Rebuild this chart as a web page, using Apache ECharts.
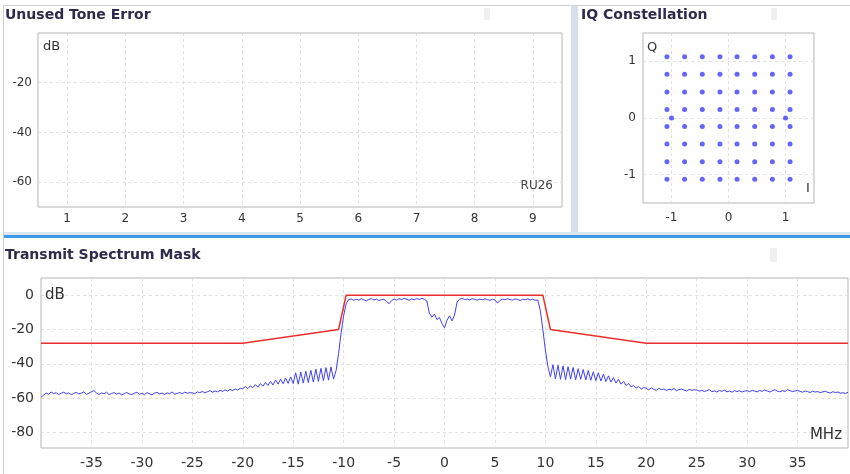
<!DOCTYPE html>
<html>
<head>
<meta charset="utf-8">
<script src="https://cdn.jsdelivr.net/npm/echarts@6/dist/echarts.min.js"></script>
<style>
  html, body { margin: 0; padding: 0; background: #fff; }
  #chart { width: 850px; height: 474px; }
</style>
</head>
<body>
<div id="chart"></div>
<script>
// Unused Tone Error: only the empty axes are shown
const toneXTicks = [1, 2, 3, 4, 5, 6, 7, 8, 9];
const toneYTicks = [-60, -40, -20];

// IQ constellation: 64-QAM levels, plus the two pilots
const iqLevels = [-1.08, -0.77, -0.46, -0.15, 0.15, 0.46, 0.77, 1.08];
const iqPilots = [[-1, 0], [1, 0]];
const iqTicks = [-1, 0, 1];

// spectrum mask (MHz, dB)
const maskFreq = [-40, -20, -10.5, -9.75, 9.75, 10.5, 20, 40];
const maskLevel = [-28, -28, -20, 0, 0, -20, -28, -28];

// measured spectrum, one value every 0.25 MHz starting at -40 MHz
const specStart = -40;
const specStep = 0.25;
const specLevel = [
  -59.5, -58.2, -57.0, -57.6, -56.4, -57.3, -56.8, -57.9, -57.1, -56.5, -57.4, -56.9, -58.0, -57.2, -56.6, -57.5, -57.0, -56.3, -57.8, -57.1,
  -56.2, -55.6, -57.0, -57.8, -56.9, -57.4, -56.5, -57.9, -57.2, -56.8, -57.6, -57.0, -58.1, -57.3, -56.7, -57.5, -57.9, -57.1, -56.6, -57.7,
  -57.2, -57.9, -56.8, -57.4, -58.0, -57.1, -56.6, -57.5, -57.0, -57.8, -56.9, -57.3, -56.4, -57.6, -57.2, -56.7, -57.4, -56.5, -57.1, -56.8,
  -56.9, -57.4, -56.3, -56.8, -56.0, -56.9, -56.2, -55.6, -56.5, -55.8, -56.3, -55.4, -56.0, -55.2, -55.9, -54.8, -55.6, -54.6, -55.3, -54.2,
  -54.6, -53.2, -54.4, -52.8, -53.9, -52.1, -53.6, -51.5, -53.0, -50.9, -52.6, -50.2, -52.3, -49.4, -51.8, -48.9, -51.6, -48.2, -51.4, -47.6,
  -51.5, -45.2, -51.8, -44.8, -51.2, -44.3, -50.9, -43.8, -50.6, -43.1, -50.2, -42.6, -49.8, -42.2, -49.5, -41.8, -48.9, -44.0, -34.0, -22.0,
  -12.0, -5.0, -2.6, -2.2, -3.0, -2.4, -2.9, -2.1, -2.7, -3.3, -2.5, -2.0, -2.8, -2.3, -3.1, -2.6, -2.4, -3.6, -5.0, -3.2,
  -2.3, -2.9, -2.1, -2.6, -1.8, -2.4, -3.0, -2.2, -2.7, -2.0, -2.5, -1.9, -2.4, -3.4, -10.5, -12.8, -11.0, -14.2, -13.0, -16.5,
  -19.0, -14.5, -12.0, -15.0, -11.5, -4.0, -2.4, -1.9, -2.6, -2.2, -2.8, -2.0, -2.5, -2.9, -2.3, -2.7, -2.1, -2.6, -3.0, -2.4,
  -2.8, -4.6, -3.1, -2.3, -2.7, -2.0, -2.6, -2.9, -2.2, -2.5, -3.1, -2.4, -2.7, -2.1, -2.8, -2.4, -3.0, -2.8, -9.0, -20.0,
  -32.0, -41.5, -47.5, -40.5, -48.8, -40.8, -49.0, -41.2, -49.2, -41.6, -48.9, -42.1, -49.3, -42.8, -49.0, -43.3, -49.4, -43.9, -49.6, -44.6,
  -49.8, -45.2, -50.0, -46.0, -50.3, -47.0, -50.6, -48.0, -51.2, -49.0, -51.8, -50.2, -52.6, -51.4, -53.4, -52.6, -54.1, -53.2, -54.6, -53.8,
  -54.2, -55.1, -54.0, -54.9, -55.4, -54.3, -55.0, -54.6, -55.5, -54.8, -55.2, -54.4, -55.6, -55.0, -54.7, -55.3, -55.8, -54.9, -55.4, -55.1,
  -55.2, -55.9, -55.4, -56.1, -55.6, -55.0, -56.2, -55.7, -56.4, -55.5, -56.0, -55.3, -56.3, -55.8, -56.5, -55.6, -56.1, -55.7, -56.4, -55.9,
  -55.6, -56.2, -55.4, -55.9, -56.3, -55.5, -56.0, -55.2, -55.8, -56.4, -55.7, -55.1, -55.9, -56.3, -55.5, -56.1, -55.0, -55.6, -56.2, -55.8,
  -55.4, -56.0, -56.5, -55.8, -56.2, -56.7, -55.9, -56.4, -56.1, -56.8, -56.3, -55.9, -56.6, -57.0, -56.2, -56.7, -56.4, -57.1, -56.8, -57.3,
  -56.5
];
const specXTicks = [-35, -30, -25, -20, -15, -10, -5, 0, 5, 10, 15, 20, 25, 30, 35];
const specYTicks = [-80, -60, -40, -20, 0];

const FONT = 'DejaVu Sans';

let chart = echarts.init(document.getElementById('chart'));

// shared look of every axis: no line, dashed grid at the given tick values
function axis(ticks, fontSize, margin, extra) {
  return Object.assign({
    type: 'value',
    axisLine: { show: false },
    axisTick: { show: false, customValues: ticks },
    axisLabel: { customValues: ticks, color: '#333', fontSize: fontSize, fontFamily: FONT, margin: margin },
    splitLine: { show: true, lineStyle: { color: '#e0e0e0', type: [3, 3], width: 1 } }
  }, extra);
}

let iqData = [];
iqLevels.forEach(q => iqLevels.forEach(i => iqData.push([i, q])));
iqPilots.forEach(p => iqData.push(p));

let maskData = maskFreq.map((f, k) => [f, maskLevel[k]]);
let specData = specLevel.map((v, k) => [specStart + k * specStep, v]);

function label(text, x, y, size, opts) {
  return {
    type: 'text', x: x, y: y, z: 10,
    style: Object.assign({ text: text, font: size + 'px "' + FONT + '"', fill: '#333', verticalAlign: 'middle' }, opts || {})
  };
}
function title(text, x, y) {
  return {
    type: 'text', x: x, y: y, z: 10,
    style: { text: text, font: 'bold 14px "' + FONT + '"', fill: '#2e2a4c', verticalAlign: 'middle' }
  };
}
function rect(x, y, w, h, fill) {
  return { type: 'rect', shape: { x: x, y: y, width: w, height: h }, style: { fill: fill }, z: 5 };
}

let gridBox = { show: true, borderColor: '#b5b5b5', borderWidth: 1, backgroundColor: 'transparent' };

var option = {
  animation: false,
  backgroundColor: '#fff',
  grid: [
    Object.assign({ left: 38, top: 33, width: 524, height: 174 }, gridBox),
    Object.assign({ left: 643, top: 33, width: 171, height: 170 }, gridBox),
    Object.assign({ left: 41, top: 278, width: 807, height: 170 }, gridBox)
  ],
  xAxis: [
    axis(toneXTicks, 12, 6, { gridIndex: 0, min: 0.5, max: 9.5 }),
    axis(iqTicks, 12, 9, { gridIndex: 1, min: -1.5, max: 1.5 }),
    axis(specXTicks, 14, 8, { gridIndex: 2, min: -40, max: 40 })
  ],
  yAxis: [
    axis(toneYTicks, 12, 6, { gridIndex: 0, min: -70, max: 0 }),
    axis(iqTicks, 12, 7, { gridIndex: 1, min: -1.5, max: 1.5 }),
    axis(specYTicks, 14, 7, { gridIndex: 2, min: -89, max: 10 })
  ],
  graphic: [
    rect(3, 5, 847, 1, '#d0d0d0'),
    rect(3, 5, 1, 469, '#d0d0d0'),
    rect(571, 6, 7, 227, '#d5e0ec'),
    rect(4, 232, 846, 3, '#dde6ef'),
    rect(4, 235, 846, 3, '#3d9ae8'),
    rect(484, 8, 6, 12, '#f0f0f0'),
    rect(771, 8, 6, 12, '#f0f0f0'),
    rect(770, 248, 7, 14, '#f0f0f0'),
    title('Unused Tone Error', 5, 15),
    title('IQ Constellation', 581, 15),
    title('Transmit Spectrum Mask', 5, 255),
    label('dB', 43, 47, 13),
    label('RU26', 553, 186, 12, { align: 'right', fill: '#444' }),
    label('Q', 647, 48, 13),
    label('I', 806, 189, 13),
    label('dB', 45, 295, 15),
    label('MHz', 842, 435, 15, { align: 'right' })
  ],
  series: [
    {
      type: 'scatter',
      xAxisIndex: 1,
      yAxisIndex: 1,
      symbolSize: 5,
      itemStyle: { color: '#3f3ff5' },
      data: iqData
    },
    {
      name: 'spectrum',
      type: 'line',
      xAxisIndex: 2,
      yAxisIndex: 2,
      showSymbol: false,
      lineStyle: { color: '#4040f4', width: 1 },
      data: specData,
      z: 2
    },
    {
      name: 'mask',
      type: 'line',
      xAxisIndex: 2,
      yAxisIndex: 2,
      showSymbol: false,
      lineStyle: { color: '#e8302a', width: 1.5 },
      data: maskData,
      z: 3
    }
  ]
};
chart.setOption(option);
</script>
</body>
</html>
